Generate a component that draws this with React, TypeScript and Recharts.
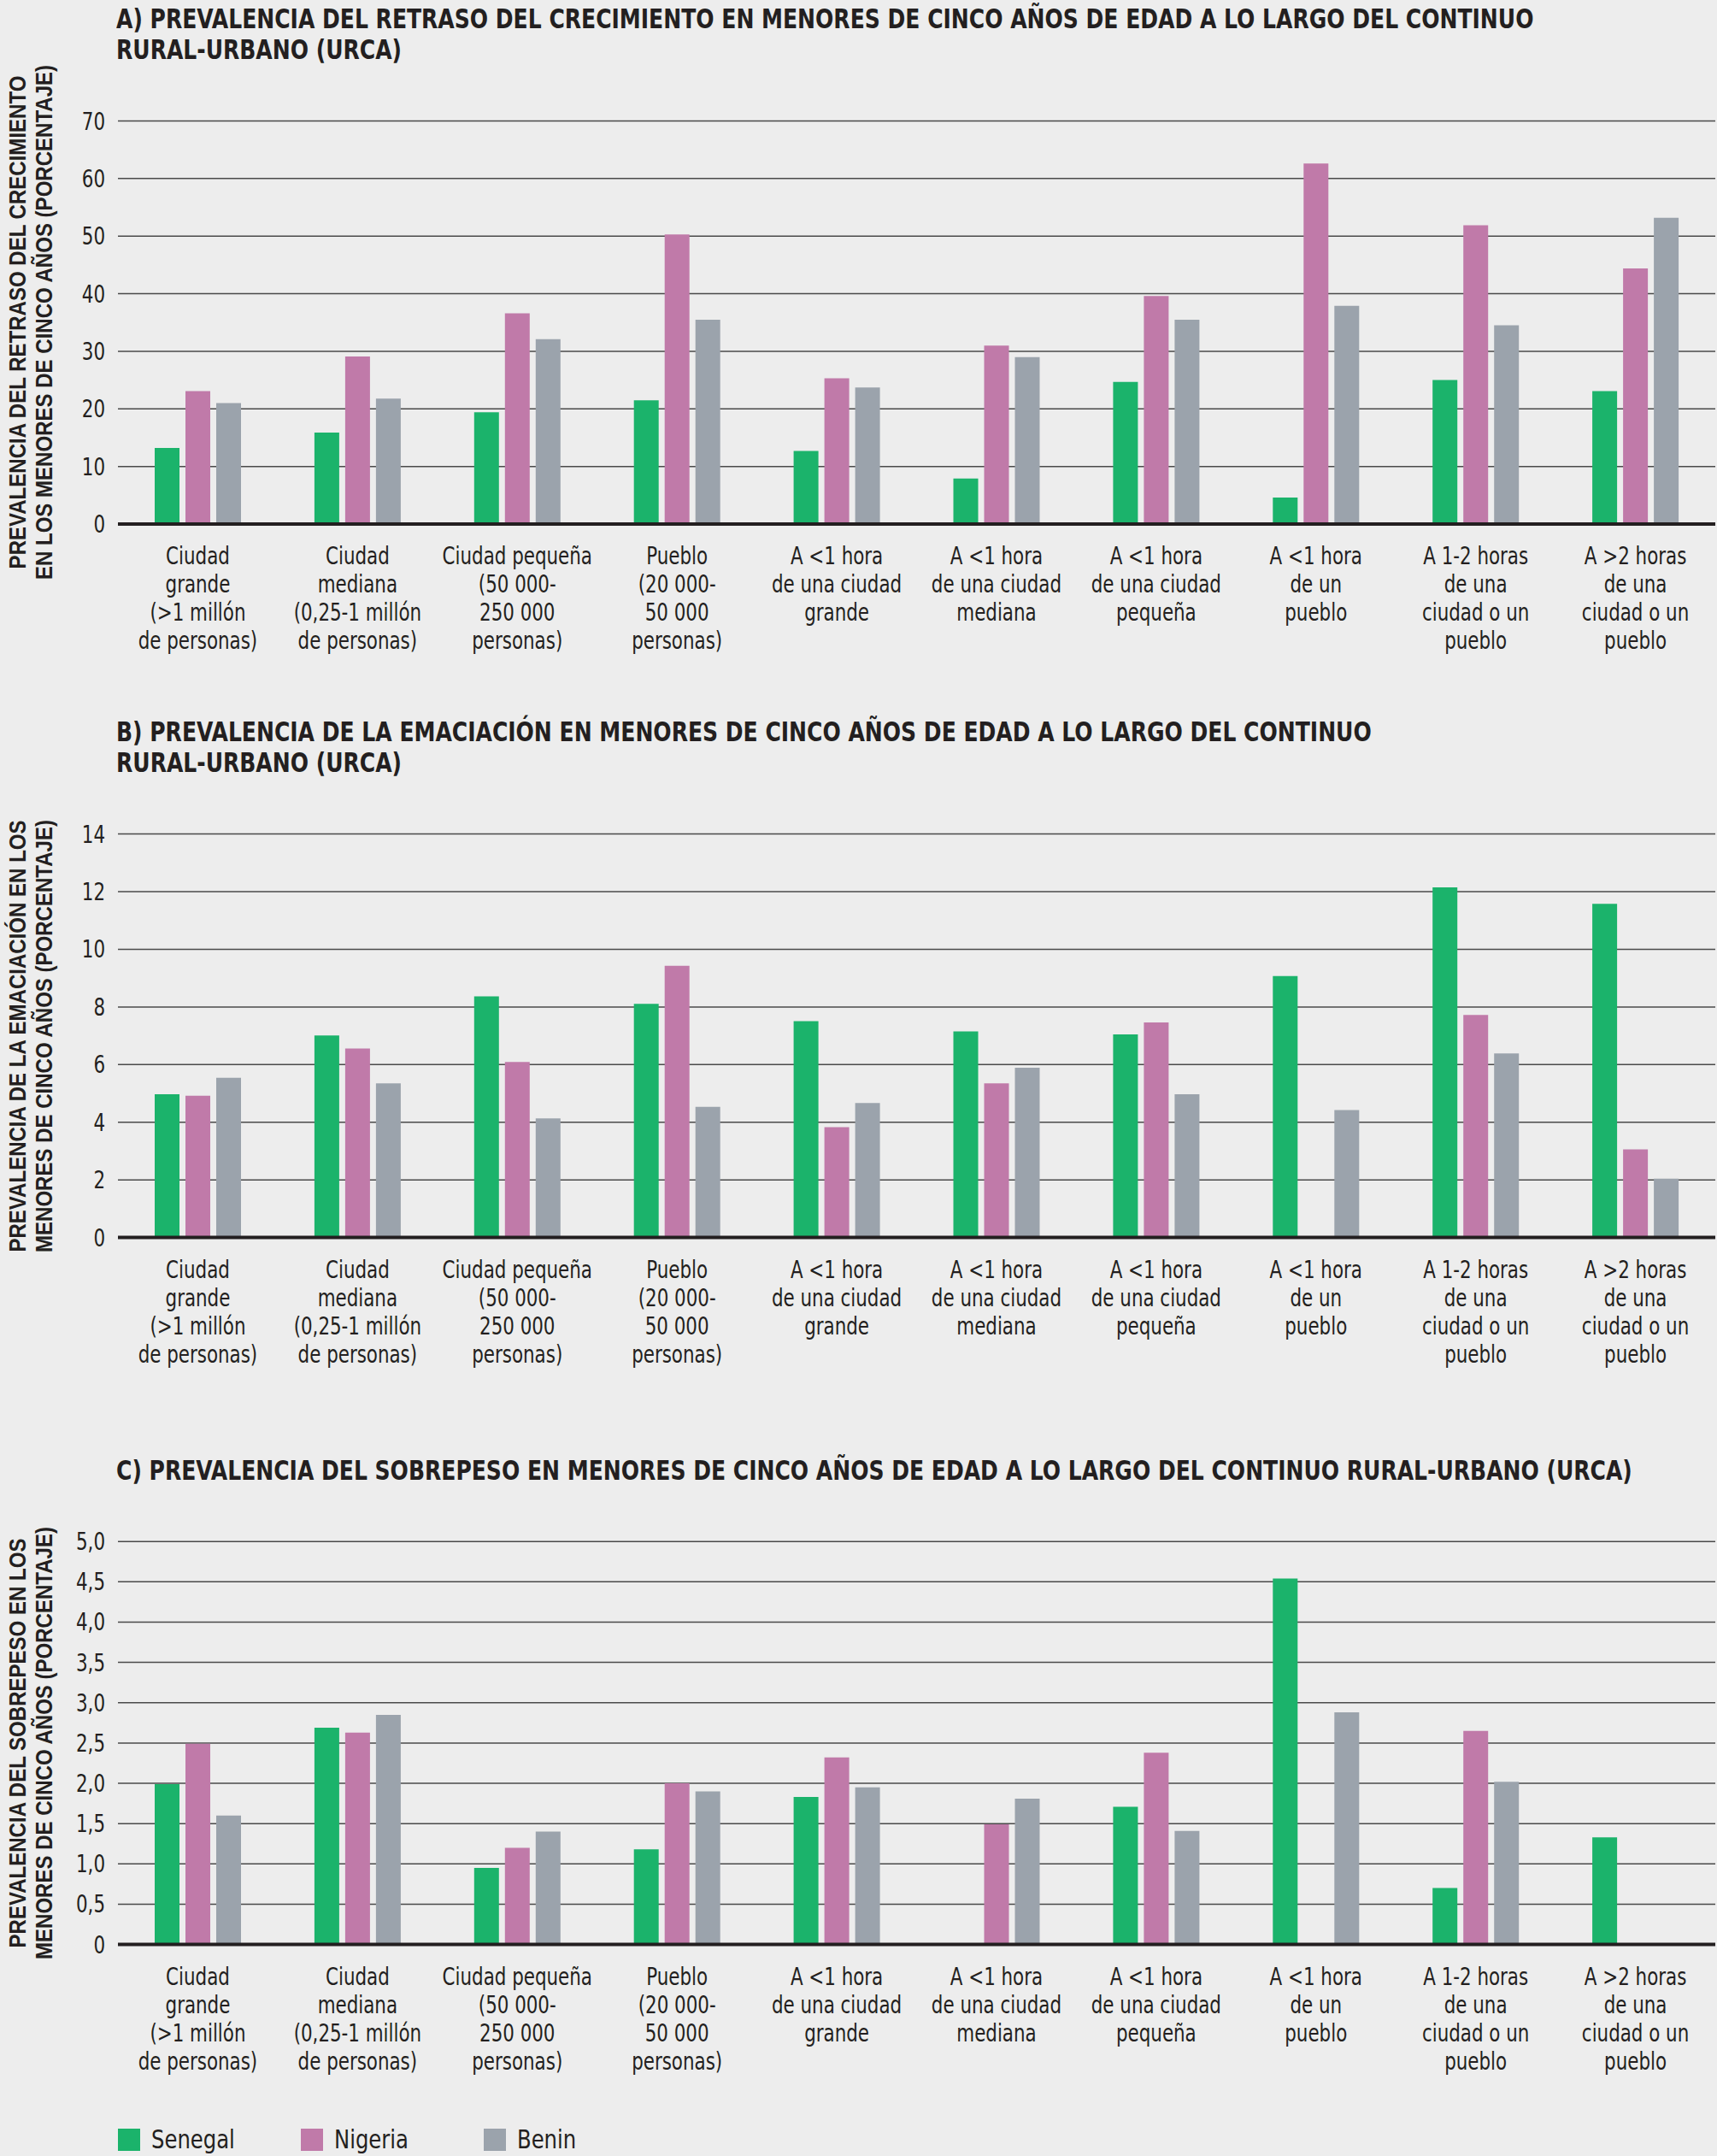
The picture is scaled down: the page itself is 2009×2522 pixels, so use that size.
import { BarChart, Bar, XAxis, YAxis, CartesianGrid } from 'recharts'

const categories = [
    'Ciudad\ngrande\n(>1 millón\nde personas)',
    'Ciudad\nmediana\n(0,25-1 millón\nde personas)',
    'Ciudad pequeña\n(50 000-\n250 000\npersonas)',
    'Pueblo\n(20 000-\n50 000\npersonas)',
    'A <1 hora\nde una ciudad\ngrande',
    'A <1 hora\nde una ciudad\nmediana',
    'A <1 hora\nde una ciudad\npequeña',
    'A <1 hora\nde un\npueblo',
    'A 1-2 horas\nde una\nciudad o un\npueblo',
    'A >2 horas\nde una\nciudad o un\npueblo',
]

const countries = ['Senegal', 'Nigeria', 'Benin']
const colors = ['#1bb36b', '#c07aa9', '#9ba3ac']

// A) retraso del crecimiento
const stuntingSenegal = [13.2, 15.9, 19.4, 21.5, 12.7, 7.9, 24.7, 4.6, 25.0, 23.1]
const stuntingNigeria = [23.1, 29.1, 36.6, 50.3, 25.3, 31.0, 39.6, 62.6, 51.9, 44.4]
const stuntingBenin = [21.0, 21.8, 32.1, 35.5, 23.7, 29.0, 35.5, 37.9, 34.5, 53.2]
const stuntingTicks = [0, 10, 20, 30, 40, 50, 60, 70]

// B) emaciación
const wastingSenegal = [4.97, 7.01, 8.37, 8.11, 7.51, 7.15, 7.05, 9.07, 12.15, 11.58]
const wastingNigeria = [4.92, 6.56, 6.09, 9.43, 3.83, 5.35, 7.46, null, 7.72, 3.06]
const wastingBenin = [5.54, 5.35, 4.13, 4.53, 4.67, 5.89, 4.97, 4.42, 6.39, 2.04]
const wastingTicks = [0, 2, 4, 6, 8, 10, 12, 14]

// C) sobrepeso
const overweightSenegal = [1.99, 2.69, 0.95, 1.18, 1.83, null, 1.71, 4.54, 0.7, 1.33]
const overweightNigeria = [2.49, 2.63, 1.2, 2.0, 2.32, 1.49, 2.38, null, 2.65, null]
const overweightBenin = [1.6, 2.85, 1.4, 1.9, 1.95, 1.81, 1.41, 2.88, 2.02, null]
const overweightTicks = [0, 0.5, 1, 1.5, 2, 2.5, 3, 3.5, 4, 4.5, 5]

const narrow = "'DejaVu Sans Condensed', 'Liberation Sans Narrow', sans-serif"
const wide = "'Liberation Sans', Arial, sans-serif"
const ink = '#231f20'

function buildRows(s: (number | null)[], n: (number | null)[], b: (number | null)[]) {
    return categories.map((c, i) => ({ cat: c, Senegal: s[i], Nigeria: n[i], Benin: b[i] }))
}

function CatTick({ x, y, payload }: any) {
    const lines = String(payload.value).split('\n')
    return (
        <g transform={`translate(${x},${y})`}>
            <text transform="scale(0.85,1)" x={0} y={45} textAnchor="middle" fill={ink} fontSize={28} fontFamily={narrow}>
                {lines.map((l, i) => (
                    <tspan key={i} x={0} dy={i === 0 ? 0 : 33}>{l}</tspan>
                ))}
            </text>
        </g>
    )
}

function ValTick({ x, y, payload, fmt }: any) {
    const label = fmt ? fmt(payload.value) : String(payload.value)
    return (
        <g transform={`translate(${x},${y})`}>
            <text transform="scale(0.85,1)" x={0} y={10} textAnchor="end" fill={ink} fontSize={28} fontFamily={narrow}>
                {label}
            </text>
        </g>
    )
}

interface PanelProps {
    top: number
    height: number
    plotTop: number
    plotBottom: number
    titleTop: number
    title: string[]
    yLabel: string[]
    rows: any[]
    ticks: number[]
    fmt?: (v: number) => string
}

function Panel({ top, height, plotTop, plotBottom, titleTop, title, yLabel, rows, ticks, fmt }: PanelProps) {
    const mid = (plotTop + plotBottom) / 2
    return (
        <div style={{ position: 'absolute', left: 0, top, width: 2009, height }}>
            <div style={{
                position: 'absolute', left: 136, top: titleTop, fontFamily: narrow, fontWeight: 'bold',
                fontSize: 32, lineHeight: '36px', color: ink, whiteSpace: 'nowrap',
                transform: 'scaleX(0.87)', transformOrigin: 'left top'
            }}>
                {title.map((t, i) => <div key={i}>{t}</div>)}
            </div>
            <div style={{
                position: 'absolute', left: 37, top: mid, transform: 'translate(-50%, -50%) rotate(-90deg) scaleX(0.89)',
                fontFamily: wide, fontWeight: 'bold', fontSize: 27, lineHeight: '31px', color: ink,
                whiteSpace: 'nowrap', textAlign: 'center'
            }}>
                {yLabel.map((t, i) => <div key={i}>{t}</div>)}
            </div>
            <div style={{ position: 'absolute', left: 0, top: 0 }}>
                <BarChart
                    width={2009}
                    height={height}
                    data={rows}
                    margin={{ top: plotTop, right: 2, bottom: 0, left: 0 }}
                    barSize={29}
                    barGap={7}
                >
                    <CartesianGrid vertical={false} stroke="#4a4a4a" strokeWidth={1.5} />
                    <YAxis
                        width={138}
                        domain={[ticks[0], ticks[ticks.length - 1]]}
                        ticks={ticks}
                        interval={0}
                        axisLine={false}
                        tickLine={false}
                        tickSize={0}
                        tickMargin={15}
                        tick={<ValTick fmt={fmt} />}
                    />
                    <XAxis
                        dataKey="cat"
                        interval={0}
                        tickLine={false}
                        tickSize={0}
                        axisLine={{ stroke: ink, strokeWidth: 4 }}
                        tick={<CatTick />}
                        height={height - plotBottom}
                    />
                    {countries.map((c, i) => (
                        <Bar key={c} dataKey={c} fill={colors[i]} isAnimationActive={false} />
                    ))}
                </BarChart>
            </div>
        </div>
    )
}

function App() {
    const comma = (v: number) => (v === 0 ? '0' : v.toFixed(1).replace('.', ','))
    return (
        <div style={{ position: 'absolute', left: 0, top: 0, width: 2009, height: 2522, background: '#ededed', overflow: 'hidden' }}>
            <Panel
                top={0}
                height={800}
                plotTop={141.5}
                plotBottom={613}
                titleTop={4}
                title={[
                    'A) PREVALENCIA DEL RETRASO DEL CRECIMIENTO EN MENORES DE CINCO AÑOS DE EDAD A LO LARGO DEL CONTINUO',
                    'RURAL-URBANO (URCA)',
                ]}
                yLabel={['PREVALENCIA DEL RETRASO DEL CRECIMIENTO', 'EN LOS MENORES DE CINCO AÑOS (PORCENTAJE)']}
                rows={buildRows(stuntingSenegal, stuntingNigeria, stuntingBenin)}
                ticks={stuntingTicks}
            />
            <Panel
                top={820}
                height={800}
                plotTop={155.6}
                plotBottom={627.6}
                titleTop={18}
                title={[
                    'B) PREVALENCIA DE LA EMACIACIÓN EN MENORES DE CINCO AÑOS DE EDAD A LO LARGO DEL CONTINUO',
                    'RURAL-URBANO (URCA)',
                ]}
                yLabel={['PREVALENCIA DE LA EMACIACIÓN EN LOS', 'MENORES DE CINCO AÑOS (PORCENTAJE)']}
                rows={buildRows(wastingSenegal, wastingNigeria, wastingBenin)}
                ticks={wastingTicks}
            />
            <Panel
                top={1660}
                height={820}
                plotTop={143.2}
                plotBottom={614.6}
                titleTop={42}
                title={['C) PREVALENCIA DEL SOBREPESO EN MENORES DE CINCO AÑOS DE EDAD A LO LARGO DEL CONTINUO RURAL-URBANO (URCA)']}
                yLabel={['PREVALENCIA DEL SOBREPESO EN LOS', 'MENORES DE CINCO AÑOS (PORCENTAJE)']}
                rows={buildRows(overweightSenegal, overweightNigeria, overweightBenin)}
                ticks={overweightTicks}
                fmt={comma}
            />
            <div style={{ position: 'absolute', left: 138, top: 2490, height: 26, display: 'flex', fontFamily: narrow, fontSize: 30, lineHeight: '26px', color: ink }}>
                {countries.map((c, i) => (
                    <div key={c} style={{ display: 'flex', alignItems: 'center', width: 214, height: 26 }}>
                        <span style={{ display: 'inline-block', width: 26, height: 26, background: colors[i], marginRight: 13 }} />
                        <span style={{ display: 'inline-block', transform: 'scaleX(0.9)', transformOrigin: 'left center' }}>{c}</span>
                    </div>
                ))}
            </div>
        </div>
    )
}

export default App
